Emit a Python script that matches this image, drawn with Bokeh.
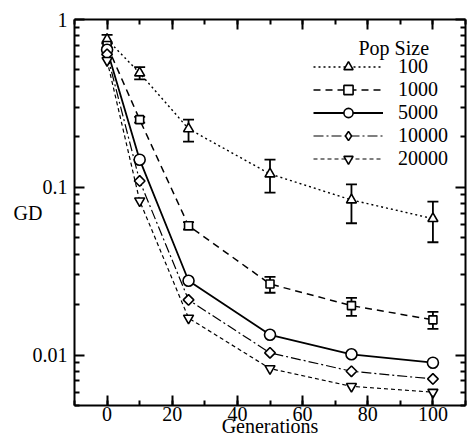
import math
from bokeh.plotting import figure
from bokeh.models import (Range1d, LinearAxis, LogAxis, FixedTicker, SingleIntervalTicker,
                          Legend, LegendItem, Whisker, TeeHead, ColumnDataSource, Label,
                          CustomJSTickFormatter)
from bokeh.embed import file_html
from bokeh.resources import INLINE

# ---------------- data ----------------
generations = [0, 10, 25, 50, 75, 100]
pop_labels = ["100", "1000", "5000", "10000", "20000"]

gd_100 = [0.76, 0.48, 0.223, 0.120, 0.084, 0.065]
gd_100_lo = [0.72, 0.44, 0.187, 0.093, 0.061, 0.047]
gd_100_hi = [0.81, 0.52, 0.253, 0.146, 0.104, 0.082]

gd_1000 = [0.70, 0.253, 0.059, 0.0265, 0.0197, 0.0162]
gd_1000_lo = [0.68, 0.243, 0.056, 0.0235, 0.0171, 0.0143]
gd_1000_hi = [0.72, 0.263, 0.062, 0.0292, 0.0219, 0.0181]

gd_5000 = [0.66, 0.146, 0.0277, 0.0132, 0.0101, 0.0090]
gd_10000 = [0.62, 0.109, 0.0213, 0.0103, 0.0080, 0.0072]
gd_20000 = [0.57, 0.083, 0.0166, 0.0083, 0.0065, 0.0060]

y_major = [0.01, 0.1, 1]
y_minor = [m * d for d in (0.001, 0.01, 0.1) for m in range(2, 10)]

FONT = "Liberation Serif"
FS = "20px"

p = figure(width=469, height=443, y_axis_type="log",
           x_range=Range1d(-10, 110), y_range=Range1d(0.005, 1),
           output_backend="svg", toolbar_location=None,
           min_border_left=74, min_border_right=4, min_border_top=19, min_border_bottom=38)
p.outline_line_color = None
p.grid.visible = False
p.background_fill_color = "white"

xt = SingleIntervalTicker(interval=20, num_minor_ticks=2)
yt = FixedTicker(ticks=y_major, minor_ticks=y_minor)


def style_axis(ax, labels=True):
    ax.axis_line_width = 2
    ax.axis_line_color = "black"
    ax.major_tick_in = 10
    ax.major_tick_out = 0
    ax.minor_tick_in = 5
    ax.minor_tick_out = 0
    ax.major_tick_line_width = 2
    ax.minor_tick_line_width = 2
    ax.major_tick_line_color = "black"
    ax.minor_tick_line_color = "black"
    if labels:
        ax.major_label_text_font = FONT
        ax.major_label_text_font_size = FS
        ax.major_label_text_color = "black"
        ax.axis_label_text_font = FONT
        ax.axis_label_text_font_size = FS
        ax.axis_label_text_font_style = "normal"
        ax.axis_label_text_color = "black"
    else:
        ax.formatter = CustomJSTickFormatter(code="return ''")
        ax.major_label_text_font_size = "1px"
        ax.major_label_standoff = 0


xa = p.xaxis[0]
xa.ticker = xt
xa.axis_label = "Generations"
style_axis(xa)
xa.major_label_standoff = 1
xa.axis_label_standoff = -9

ya = p.yaxis[0]
ya.ticker = yt
ya.formatter = CustomJSTickFormatter(code="return tick.toString()")
ya.axis_label = "GD"
ya.axis_label_orientation = "horizontal"
style_axis(ya)
ya.major_label_standoff = 7
ya.axis_label_standoff = -13

top = LinearAxis(ticker=xt)
style_axis(top, labels=False)
p.add_layout(top, "above")
right = LogAxis(ticker=yt)
style_axis(right, labels=False)
p.add_layout(right, "right")

# error bars
for vals_lo, vals_hi in ((gd_100_lo, gd_100_hi), (gd_1000_lo, gd_1000_hi)):
    src = ColumnDataSource(dict(x=generations, lo=vals_lo, hi=vals_hi))
    w = Whisker(base="x", lower="lo", upper="hi", source=src, line_width=1.8, line_color="black",
                upper_head=TeeHead(size=11, line_width=1.8, line_color="black"),
                lower_head=TeeHead(size=11, line_width=1.8, line_color="black"),
                level="underlay")
    p.add_layout(w)

series = [
    (gd_100, "2 3", 1.4, "triangle", 10, 0.0),
    (gd_1000, "7 5", 1.5, "square", 8, 0.0),
    (gd_5000, "solid", 1.8, "circle", 11, 0.0),
    (gd_10000, "10 3 2 3", 1.2, "square", 7.5, math.pi / 4),
    (gd_20000, "4 3", 1.2, "inverted_triangle", 10, 0.0),
]

items = []
for lab, (vals, dash, lw, marker, size, ang) in zip(pop_labels, series):
    src = ColumnDataSource(dict(x=generations, y=vals))
    ln = p.line("x", "y", source=src, line_color="black", line_width=lw, line_dash=dash)
    rs = [ln]
    if ang != 0.0:
        # legend glyphs are never rotated: a diamond hidden under the rotated square
        # serves as the legend sample
        dia = p.scatter("x", "y", source=src, marker="diamond", size=9.5, fill_color="white",
                        line_color="black", line_width=1.6)
        rs.append(dia)
    sc = p.scatter("x", "y", source=src, marker=marker, size=size, angle=ang, fill_color="white",
                   line_color="black", line_width=1.6)
    if ang == 0.0:
        rs.append(sc)
    items.append(LegendItem(label=lab, renderers=rs))

legend = Legend(items=items, location=(239, 235), padding=0, spacing=0, margin=0,
                glyph_width=70, glyph_height=23, label_standoff=15, label_width=49,
                label_text_align="right",
                label_text_font=FONT, label_text_font_size=FS, label_text_color="black",
                border_line_color=None, background_fill_alpha=0)
p.add_layout(legend, "center")

p.add_layout(Label(x=284, y=358, x_units="screen", y_units="screen", text="Pop Size",
                   text_font=FONT, text_font_size=FS, text_color="black",
                   text_baseline="middle", text_align="left"))

open("out.html", "w").write(file_html(p, INLINE))
